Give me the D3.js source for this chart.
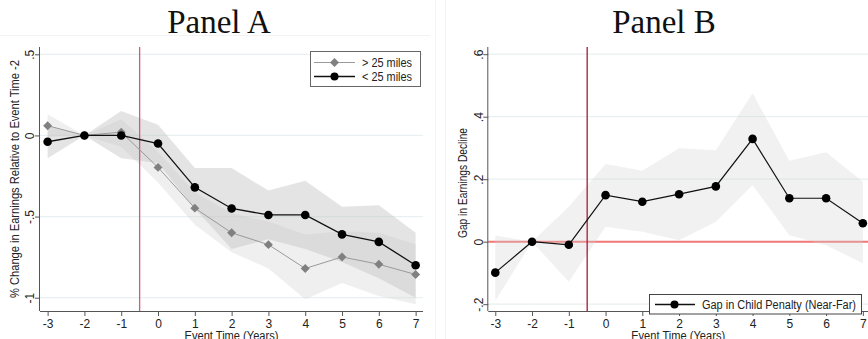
<!DOCTYPE html>
<html><head><meta charset="utf-8">
<script src="https://cdn.jsdelivr.net/npm/d3@7"></script>
<style>body{margin:0;background:#fff}svg{display:block}</style>
</head><body>
<svg id="c" width="868" height="339"></svg>
<script>
const eventTime = [-3,-2,-1,0,1,2,3,4,5,6,7];
// Panel A
const farVals  = [0.06,0,0.02,-0.197,-0.448,-0.60,-0.673,-0.82,-0.749,-0.794,-0.857];
const farLo    = [-0.01,0,-0.07,-0.29,-0.55,-0.72,-0.82,-1.01,-0.91,-0.99,-1.04];
const farHi    = [0.13,0,0.10,-0.10,-0.35,-0.48,-0.53,-0.61,-0.59,-0.60,-0.67];
const nearVals = [-0.039,0,0.0,-0.05,-0.32,-0.45,-0.49,-0.49,-0.61,-0.656,-0.80];
const nearLo   = [-0.14,0,-0.14,-0.17,-0.45,-0.70,-0.64,-0.70,-0.78,-0.88,-1.0];
const nearHi   = [0.06,0,0.15,0.066,-0.20,-0.20,-0.34,-0.28,-0.44,-0.43,-0.60];
const ticksA = [0.5,0,-0.5,-1];
const tickLabelsA = [".5","0","-.5","-1"];
// Panel B
const gapVals = [-0.099,0,-0.01,0.149,0.128,0.152,0.177,0.329,0.139,0.139,0.059];
const gapLo   = [-0.19,0,-0.128,0.048,0.032,0.005,0.064,0.181,0.021,-0.011,-0.069];
const gapHi   = [0.02,0,0.112,0.249,0.227,0.299,0.293,0.475,0.259,0.286,0.192];
const ticksB = [0.6,0.4,0.2,0,-0.2];
const tickLabelsB = [".6",".4",".2","0","-.2"];
const xTicks = eventTime;

const svg = d3.select("#c");
const font = "'Liberation Sans', Arial, sans-serif";

// faint panel borders
svg.append("line").attr("x1",0).attr("x2",430).attr("y1",35.5).attr("y2",35.5).attr("stroke","#f3f3f3");
svg.append("line").attr("x1",435.5).attr("x2",435.5).attr("y1",0).attr("y2",339).attr("stroke","#f3f3f3");
svg.append("line").attr("x1",445.5).attr("x2",445.5).attr("y1",0).attr("y2",339).attr("stroke","#f3f3f3");

function panel(o){
  const x = d3.scaleLinear().domain(o.xd).range([o.x0,o.x1]);
  const y = d3.scaleLinear().domain(o.yd).range([311,47]);
  const g = svg.append("g");
  g.selectAll(".grid").data(o.yt).join("line")
    .attr("x1",o.x0).attr("x2",o.x1).attr("y1",d=>y(d)).attr("y2",d=>y(d))
    .attr("stroke","#e8f0f1").attr("stroke-width",1.2);
  if(o.pre) o.pre(g,x,y);
  o.bands.forEach(b=>{
    const area = d3.area().x((d,i)=>x(eventTime[i])).y0((d,i)=>y(b.lo[i])).y1((d,i)=>y(b.hi[i]));
    g.append("path").datum(b.lo).attr("d",area).attr("fill",b.fill).attr("fill-opacity",b.op);
  });
  g.append("line").attr("x1",x(-0.5)).attr("x2",x(-0.5)).attr("y1",47).attr("y2",311)
    .attr("stroke",o.vcol).attr("stroke-width",1.3);
  o.series.forEach(s=>{
    const line = d3.line().x((d,i)=>x(eventTime[i])).y(d=>y(d));
    g.append("path").datum(s.v).attr("d",line).attr("fill","none").attr("stroke",s.col).attr("stroke-width",s.w);
    if(s.shape==="diamond"){
      g.selectAll(null).data(s.v).join("path")
        .attr("d",d3.symbol(d3.symbolSquare,40)())
        .attr("transform",(d,i)=>`translate(${x(eventTime[i])},${y(d)}) rotate(45)`)
        .attr("fill",s.mcol);
    } else {
      g.selectAll(null).data(s.v).join("circle")
        .attr("cx",(d,i)=>x(eventTime[i])).attr("cy",d=>y(d)).attr("r",4.3).attr("fill",s.mcol);
    }
  });
  const ax = g.append("g").attr("transform","translate(0,311)")
    .call(d3.axisBottom(x).tickValues(xTicks).tickFormat(d3.format("d")).tickSizeOuter(0).tickSize(5));
  ax.select(".domain").attr("stroke","#555").attr("d",`M${o.x0},0.5H${o.x1}`);
  ax.selectAll(".tick line").attr("stroke","#555");
  ax.selectAll("text").attr("font-family",font).attr("font-size",12).attr("fill","#222")
    .attr("y",7).attr("dy","0.8em").text(d=>d<0?"-"+Math.abs(d):d);
  const ay = g.append("g").attr("transform",`translate(${o.x0},0)`)
    .call(d3.axisLeft(y).tickValues(o.yt).tickFormat((d,i)=>o.yl[i]).tickSizeOuter(0).tickSize(5));
  ay.select(".domain").attr("stroke","#555").attr("d","M-0.5,47V311");
  ay.selectAll(".tick line").attr("stroke","#555");
  ay.selectAll("text").attr("font-family",font).attr("font-size",12).attr("fill","#222")
    .attr("x",null).attr("dy","0.35em").attr("text-anchor","middle")
    .attr("transform","translate(-10,0) rotate(-90)");
  svg.append("text").attr("x",o.tx).attr("y",33).attr("text-anchor","middle")
    .attr("font-family","'Liberation Serif', 'DejaVu Serif', serif").attr("font-size",33).attr("fill","#111").text(o.title);
  svg.append("text").attr("x",(o.x0+o.x1)/2).attr("y",340).attr("text-anchor","middle")
    .attr("font-family",font).attr("font-size",12).attr("fill","#222")
    .attr("textLength",94).attr("lengthAdjust","spacingAndGlyphs").text("Event Time (Years)");
  svg.append("text").attr("transform",`translate(${o.ytx},${o.yty}) rotate(-90)`).attr("text-anchor","middle")
    .attr("dy","0.35em").attr("font-family",font).attr("font-size",12).attr("fill","#222")
    .attr("textLength",o.ytl).attr("lengthAdjust","spacingAndGlyphs").text(o.ytitle);
  return {x,y,g};
}

const A = panel({
  x0:40, x1:423, xd:[-3.207,7.2], yd:[-1.082,0.545], yt:ticksA, yl:tickLabelsA,
  vcol:"#d4587a", title:"Panel A", tx:219,
  ytitle:"% Change in Earnings Relative to Event Time -2", ytx:15, yty:179, ytl:238,
  bands:[{lo:farLo,hi:farHi,fill:"#d4d4d4",op:0.38},{lo:nearLo,hi:nearHi,fill:"#c4c4c4",op:0.45}],
  series:[{v:farVals,col:"#9a9a9a",w:1,mcol:"#808080",shape:"diamond"},
          {v:nearVals,col:"#111",w:1.3,mcol:"#000",shape:"circle"}]
});
const lg = svg.append("g");
lg.append("rect").attr("x",310.5).attr("y",51.5).attr("width",110).attr("height",35).attr("fill","#fff").attr("stroke","#666");
lg.append("line").attr("x1",314).attr("x2",355).attr("y1",62.5).attr("y2",62.5).attr("stroke","#9a9a9a").attr("stroke-width",1);
lg.append("path").attr("d",d3.symbol(d3.symbolSquare,40)()).attr("transform","translate(334.5,62.5) rotate(45)").attr("fill","#808080");
lg.append("line").attr("x1",314).attr("x2",355).attr("y1",76.5).attr("y2",76.5).attr("stroke","#111").attr("stroke-width",1.6);
lg.append("circle").attr("cx",334.5).attr("cy",76.5).attr("r",4).attr("fill","#000");
lg.append("text").attr("x",362).attr("y",62.5).attr("dy","0.35em").attr("font-family",font).attr("font-size",12).attr("fill","#222")
  .attr("textLength",50).attr("lengthAdjust","spacingAndGlyphs").text("> 25 miles");
lg.append("text").attr("x",362).attr("y",76.5).attr("dy","0.35em").attr("font-family",font).attr("font-size",12).attr("fill","#222")
  .attr("textLength",50).attr("lengthAdjust","spacingAndGlyphs").text("< 25 miles");

const B = panel({
  x0:488.3, x1:868, xd:[-3.19,7.14], yd:[-0.2218,0.623], yt:ticksB, yl:tickLabelsB,
  vcol:"#a8193a", title:"Panel B", tx:664,
  ytitle:"Gap in Earnings Decline", ytx:463, yty:183, ytl:110,
  pre:(g,x,y)=>{
    g.append("line").attr("x1",488.3).attr("x2",868).attr("y1",y(0)).attr("y2",y(0)).attr("stroke","#f27777").attr("stroke-width",2);
  },
  bands:[{lo:gapLo,hi:gapHi,fill:"#d0d0d0",op:0.3}],
  series:[{v:gapVals,col:"#111",w:1.2,mcol:"#000",shape:"circle"}]
});
const lb = svg.append("g");
lb.append("rect").attr("x",649.5).attr("y",294.5).attr("width",212).attr("height",19.5).attr("fill","#fff").attr("stroke","#444");
lb.append("line").attr("x1",655).attr("x2",695).attr("y1",304.5).attr("y2",304.5).attr("stroke","#111").attr("stroke-width",1.3);
lb.append("circle").attr("cx",674.5).attr("cy",304.5).attr("r",4).attr("fill","#000");
lb.append("text").attr("x",702).attr("y",304.5).attr("dy","0.35em").attr("font-family",font).attr("font-size",12).attr("fill","#222")
  .attr("textLength",154).attr("lengthAdjust","spacingAndGlyphs").text("Gap in Child Penalty (Near-Far)");
</script>
</body></html>
